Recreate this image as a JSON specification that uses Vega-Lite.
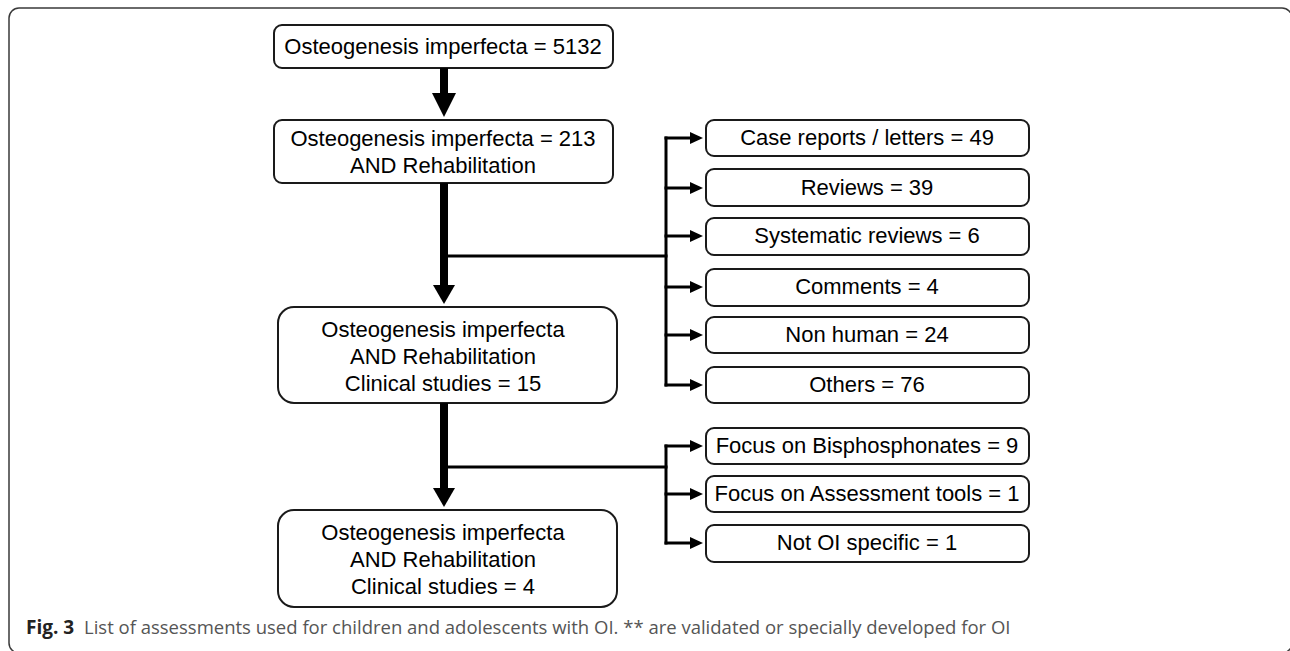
{
  "$schema": "https://vega.github.io/schema/vega-lite/v6.json",
  "width": 1290,
  "height": 651,
  "padding": 0,
  "autosize": {"type": "fit", "contains": "padding"},
  "background": "white",
  "config": {"view": {"stroke": null}},
  "datasets": {
    "frame": [{"x1": 9, "x2": 1292, "y1": 8, "y2": 653}],
    "boxes": [
      {"label": "Osteogenesis imperfecta = 5132", "x1": 274, "x2": 613, "y1": 25, "y2": 68, "tx": 443, "ty": 47, "corner": "small"},
      {"label": "Osteogenesis imperfecta = 213\nAND Rehabilitation", "x1": 274, "x2": 613, "y1": 120, "y2": 183, "tx": 443, "ty": 138.5, "corner": "small"},
      {"label": "Osteogenesis imperfecta\nAND Rehabilitation\nClinical studies = 15", "x1": 278, "x2": 617, "y1": 307, "y2": 403, "tx": 443, "ty": 329.5, "corner": "large"},
      {"label": "Osteogenesis imperfecta\nAND Rehabilitation\nClinical studies = 4", "x1": 278, "x2": 617, "y1": 510, "y2": 607, "tx": 443, "ty": 533, "corner": "large"},
      {"label": "Case reports / letters = 49", "x1": 706, "x2": 1029, "y1": 120, "y2": 156, "tx": 867, "ty": 138, "corner": "small"},
      {"label": "Reviews = 39", "x1": 706, "x2": 1029, "y1": 169, "y2": 206, "tx": 867, "ty": 188, "corner": "small"},
      {"label": "Systematic reviews = 6", "x1": 706, "x2": 1029, "y1": 218, "y2": 255, "tx": 867, "ty": 236, "corner": "small"},
      {"label": "Comments = 4", "x1": 706, "x2": 1029, "y1": 269, "y2": 306, "tx": 867, "ty": 287, "corner": "small"},
      {"label": "Non human = 24", "x1": 706, "x2": 1029, "y1": 317, "y2": 353, "tx": 867, "ty": 335, "corner": "small"},
      {"label": "Others = 76", "x1": 706, "x2": 1029, "y1": 367, "y2": 403, "tx": 867, "ty": 385, "corner": "small"},
      {"label": "Focus on Bisphosphonates = 9", "x1": 706, "x2": 1029, "y1": 428, "y2": 464, "tx": 867, "ty": 446, "corner": "small"},
      {"label": "Focus on Assessment tools = 1", "x1": 706, "x2": 1029, "y1": 476, "y2": 512, "tx": 867, "ty": 494, "corner": "small"},
      {"label": "Not OI specific = 1", "x1": 706, "x2": 1029, "y1": 525, "y2": 562, "tx": 867, "ty": 543, "corner": "small"}
    ],
    "segments": [
      {"kind": "thick", "x1": 444, "x2": 444, "y1": 68, "y2": 95},
      {"kind": "thick", "x1": 444, "x2": 444, "y1": 183, "y2": 288},
      {"kind": "thick", "x1": 444, "x2": 444, "y1": 403, "y2": 490},
      {"kind": "thin", "x1": 444, "x2": 666, "y1": 256, "y2": 256},
      {"kind": "thin", "x1": 444, "x2": 666, "y1": 467, "y2": 467},
      {"kind": "thin", "x1": 666, "x2": 666, "y1": 138, "y2": 385},
      {"kind": "thin", "x1": 666, "x2": 666, "y1": 446, "y2": 543},
      {"kind": "thin", "x1": 666, "x2": 692, "y1": 138, "y2": 138},
      {"kind": "thin", "x1": 666, "x2": 692, "y1": 188, "y2": 188},
      {"kind": "thin", "x1": 666, "x2": 692, "y1": 236, "y2": 236},
      {"kind": "thin", "x1": 666, "x2": 692, "y1": 287, "y2": 287},
      {"kind": "thin", "x1": 666, "x2": 692, "y1": 335, "y2": 335},
      {"kind": "thin", "x1": 666, "x2": 692, "y1": 385, "y2": 385},
      {"kind": "thin", "x1": 666, "x2": 692, "y1": 446, "y2": 446},
      {"kind": "thin", "x1": 666, "x2": 692, "y1": 494, "y2": 494},
      {"kind": "thin", "x1": 666, "x2": 692, "y1": 543, "y2": 543}
    ],
    "heads": [
      {"kind": "downBig", "x": 444, "y": 105},
      {"kind": "down", "x": 444, "y": 294.5},
      {"kind": "down", "x": 444, "y": 497.5},
      {"kind": "right", "x": 696.5, "y": 138},
      {"kind": "right", "x": 696.5, "y": 188},
      {"kind": "right", "x": 696.5, "y": 236},
      {"kind": "right", "x": 696.5, "y": 287},
      {"kind": "right", "x": 696.5, "y": 335},
      {"kind": "right", "x": 696.5, "y": 385},
      {"kind": "right", "x": 696.5, "y": 446},
      {"kind": "right", "x": 696.5, "y": 494},
      {"kind": "right", "x": 696.5, "y": 543}
    ],
    "caption": [
      {"part": "bold", "text": "Fig. 3", "x": 26, "y": 634},
      {"part": "plain", "text": "List of assessments used for children and adolescents with OI. ** are validated or specially developed for OI", "x": 84, "y": 634}
    ]
  },
  "layer": [
    {
      "data": {"name": "frame"},
      "mark": {"type": "rect", "fill": null, "stroke": "#3a3a3a", "strokeWidth": 1.5, "cornerRadius": 10, "clip": true},
      "encoding": {
        "x": {"field": "x1", "type": "quantitative", "scale": {"domain": [0, 1290], "nice": false, "zero": false}, "axis": null},
        "x2": {"field": "x2"},
        "y": {"field": "y1", "type": "quantitative", "scale": {"domain": [0, 651], "nice": false, "zero": false, "reverse": true}, "axis": null},
        "y2": {"field": "y2"}
      }
    },
    {
      "data": {"name": "boxes"},
      "transform": [{"filter": "datum.corner === 'small'"}],
      "mark": {"type": "rect", "fill": "white", "stroke": "#1a1a1a", "strokeWidth": 2, "cornerRadius": 8},
      "encoding": {
        "x": {"field": "x1", "type": "quantitative"},
        "x2": {"field": "x2"},
        "y": {"field": "y1", "type": "quantitative"},
        "y2": {"field": "y2"}
      }
    },
    {
      "data": {"name": "boxes"},
      "transform": [{"filter": "datum.corner === 'large'"}],
      "mark": {"type": "rect", "fill": "white", "stroke": "#1a1a1a", "strokeWidth": 2, "cornerRadius": 16},
      "encoding": {
        "x": {"field": "x1", "type": "quantitative"},
        "x2": {"field": "x2"},
        "y": {"field": "y1", "type": "quantitative"},
        "y2": {"field": "y2"}
      }
    },
    {
      "data": {"name": "segments"},
      "transform": [{"filter": "datum.kind === 'thick'"}],
      "mark": {"type": "rule", "color": "black", "strokeWidth": 8},
      "encoding": {
        "x": {"field": "x1", "type": "quantitative"},
        "x2": {"field": "x2"},
        "y": {"field": "y1", "type": "quantitative"},
        "y2": {"field": "y2"}
      }
    },
    {
      "data": {"name": "segments"},
      "transform": [{"filter": "datum.kind === 'thin'"}],
      "mark": {"type": "rule", "color": "black", "strokeWidth": 3, "strokeCap": "square"},
      "encoding": {
        "x": {"field": "x1", "type": "quantitative"},
        "x2": {"field": "x2"},
        "y": {"field": "y1", "type": "quantitative"},
        "y2": {"field": "y2"}
      }
    },
    {
      "data": {"name": "heads"},
      "transform": [{"filter": "datum.kind === 'downBig'"}],
      "mark": {"type": "point", "filled": true, "color": "black", "opacity": 1, "strokeWidth": 0, "shape": "M-1,-1L1,-1L0,1Z", "size": 576},
      "encoding": {
        "x": {"field": "x", "type": "quantitative"},
        "y": {"field": "y", "type": "quantitative"}
      }
    },
    {
      "data": {"name": "heads"},
      "transform": [{"filter": "datum.kind === 'down'"}],
      "mark": {"type": "point", "filled": true, "color": "black", "opacity": 1, "strokeWidth": 0, "shape": "M-1,-0.86L1,-0.86L0,0.86Z", "size": 484},
      "encoding": {
        "x": {"field": "x", "type": "quantitative"},
        "y": {"field": "y", "type": "quantitative"}
      }
    },
    {
      "data": {"name": "heads"},
      "transform": [{"filter": "datum.kind === 'right'"}],
      "mark": {"type": "point", "filled": true, "color": "black", "opacity": 1, "strokeWidth": 0, "shape": "M-1,-0.92L1,0L-1,0.92Z", "size": 169},
      "encoding": {
        "x": {"field": "x", "type": "quantitative"},
        "y": {"field": "y", "type": "quantitative"}
      }
    },
    {
      "data": {"name": "boxes"},
      "mark": {"type": "text", "font": "Liberation Sans", "fontSize": 22, "lineHeight": 27, "lineBreak": "\n", "align": "center", "baseline": "middle", "color": "black"},
      "encoding": {
        "x": {"field": "tx", "type": "quantitative"},
        "y": {"field": "ty", "type": "quantitative"},
        "text": {"field": "label", "type": "nominal"}
      }
    },
    {
      "data": {"name": "caption"},
      "transform": [{"filter": "datum.part === 'bold'"}],
      "mark": {"type": "text", "font": "Open Sans", "fontSize": 19, "fontWeight": "bold", "align": "left", "baseline": "alphabetic", "color": "#222222"},
      "encoding": {
        "x": {"field": "x", "type": "quantitative"},
        "y": {"field": "y", "type": "quantitative"},
        "text": {"field": "text", "type": "nominal"}
      }
    },
    {
      "data": {"name": "caption"},
      "transform": [{"filter": "datum.part === 'plain'"}],
      "mark": {"type": "text", "font": "Open Sans", "fontSize": 18.5, "align": "left", "baseline": "alphabetic", "color": "#555555"},
      "encoding": {
        "x": {"field": "x", "type": "quantitative"},
        "y": {"field": "y", "type": "quantitative"},
        "text": {"field": "text", "type": "nominal"}
      }
    }
  ]
}
